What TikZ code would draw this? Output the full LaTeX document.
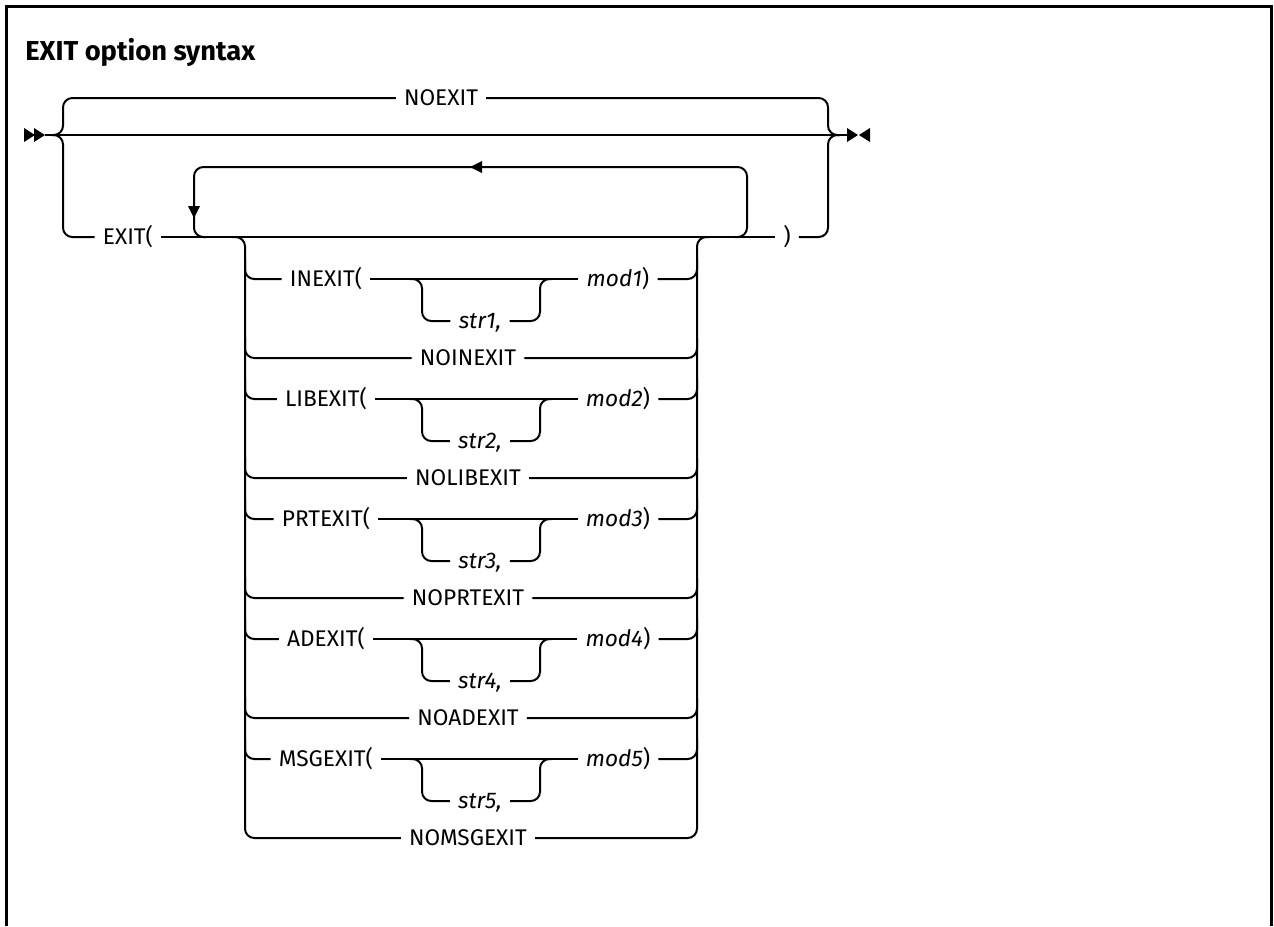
\documentclass[tikz,border=0pt]{standalone}
\usepackage{fontspec}
\setmainfont{Fira Sans}
\tikzset{
  rail/.style={line width=1.5pt, rounded corners=7pt},
  kw/.style={font=\fontsize{17}{20}\selectfont, inner xsep=6pt, inner ysep=0pt, text height=11.7pt, text depth=0pt},
}
\begin{document}
\begin{tikzpicture}[x=0.75pt,y=-0.75pt]
\useasboundingbox (0,0) rectangle (1274,926);
\draw[line width=2.25pt] (6,926) -- (6,6) -- (1271,6) -- (1271,926);
\node[anchor=west, inner sep=0pt, font=\bfseries\fontsize{20.5}{24}\selectfont] (title) at (25,52) {EXIT option syntax};
% start and end of the main line
\fill (24,128) -- (35,135) -- (24,142) -- cycle;
\fill (34,128) -- (45,135) -- (34,142) -- cycle;
\fill (847,128) -- (858,135) -- (847,142) -- cycle;
\fill (870,128) -- (859,135) -- (870,142) -- cycle;
\coordinate (in) at (45,135); \coordinate (out) at (847,135);
\draw[rail] (in) -- (out);
\node[kw] (noexit) at (441,98) {NOEXIT};
\node[kw] (exit) at (128,237) {EXIT(};
\node[kw] (close) at (787,237) {)};
\draw[rail] (52,135) -| (63,98) -- (noexit.west);
\draw[rail] (52,135) -| (63,237) -- (exit.west);
\draw[rail] (noexit.east) -| (828,135) -- (840,135);
\draw[rail] (close.east) -| (828,135) -- (840,135);
\draw[rail] (exit.east) -- (close.west);
% repeat loop
\draw[rail] (735,237) -| (747,167) -| (194,237) -- (206,237);
\fill (470,167) -- (482,161) -- (482,173) -- cycle;
\fill (194,218) -- (188,206) -- (200,206) -- cycle;
% choice stack
\node[kw] (nomsgexit) at (468,838) {NOMSGEXIT};
\draw[rail] (232,237) -| (245,838) -- (nomsgexit.west);
\draw[rail] (nomsgexit.east) -| (697,237) -- (710,237);
% INEXIT
\node[kw] (inexit) at (326,279) {INEXIT(};
\node[kw] (str1) at (480,321) {\textit{str1,}};
\node[kw] (mod1) at (618,279) {\textit{mod1})};
\node[kw] (noinexit) at (468,358) {NOINEXIT};
\draw[rail] (245,259) |- (inexit.west);
\draw[rail] (inexit.east) -- (mod1.west);
\draw[rail] (mod1.east) -| (697,259);
\draw[rail] (410,279) -| (422,321) -- (str1.west);
\draw[rail] (str1.east) -| (540,279) -- (552,279);
\draw[rail] (245,338) |- (noinexit.west);
\draw[rail] (noinexit.east) -| (697,338);
% LIBEXIT
\node[kw] (libexit) at (326,399) {LIBEXIT(};
\node[kw] (str2) at (480,441) {\textit{str2,}};
\node[kw] (mod2) at (618,399) {\textit{mod2})};
\node[kw] (nolibexit) at (468,478) {NOLIBEXIT};
\draw[rail] (245,379) |- (libexit.west);
\draw[rail] (libexit.east) -- (mod2.west);
\draw[rail] (mod2.east) -| (697,379);
\draw[rail] (410,399) -| (422,441) -- (str2.west);
\draw[rail] (str2.east) -| (540,399) -- (552,399);
\draw[rail] (245,458) |- (nolibexit.west);
\draw[rail] (nolibexit.east) -| (697,458);
% PRTEXIT
\node[kw] (prtexit) at (326,519) {PRTEXIT(};
\node[kw] (str3) at (480,561) {\textit{str3,}};
\node[kw] (mod3) at (618,519) {\textit{mod3})};
\node[kw] (noprtexit) at (468,598) {NOPRTEXIT};
\draw[rail] (245,499) |- (prtexit.west);
\draw[rail] (prtexit.east) -- (mod3.west);
\draw[rail] (mod3.east) -| (697,499);
\draw[rail] (410,519) -| (422,561) -- (str3.west);
\draw[rail] (str3.east) -| (540,519) -- (552,519);
\draw[rail] (245,578) |- (noprtexit.west);
\draw[rail] (noprtexit.east) -| (697,578);
% ADEXIT
\node[kw] (adexit) at (326,639) {ADEXIT(};
\node[kw] (str4) at (480,681) {\textit{str4,}};
\node[kw] (mod4) at (618,639) {\textit{mod4})};
\node[kw] (noadexit) at (468,718) {NOADEXIT};
\draw[rail] (245,619) |- (adexit.west);
\draw[rail] (adexit.east) -- (mod4.west);
\draw[rail] (mod4.east) -| (697,619);
\draw[rail] (410,639) -| (422,681) -- (str4.west);
\draw[rail] (str4.east) -| (540,639) -- (552,639);
\draw[rail] (245,698) |- (noadexit.west);
\draw[rail] (noadexit.east) -| (697,698);
% MSGEXIT
\node[kw] (msgexit) at (326,759) {MSGEXIT(};
\node[kw] (str5) at (480,801) {\textit{str5,}};
\node[kw] (mod5) at (618,759) {\textit{mod5})};
\draw[rail] (245,739) |- (msgexit.west);
\draw[rail] (msgexit.east) -- (mod5.west);
\draw[rail] (mod5.east) -| (697,739);
\draw[rail] (410,759) -| (422,801) -- (str5.west);
\draw[rail] (str5.east) -| (540,759) -- (552,759);
\end{tikzpicture}
\end{document}
